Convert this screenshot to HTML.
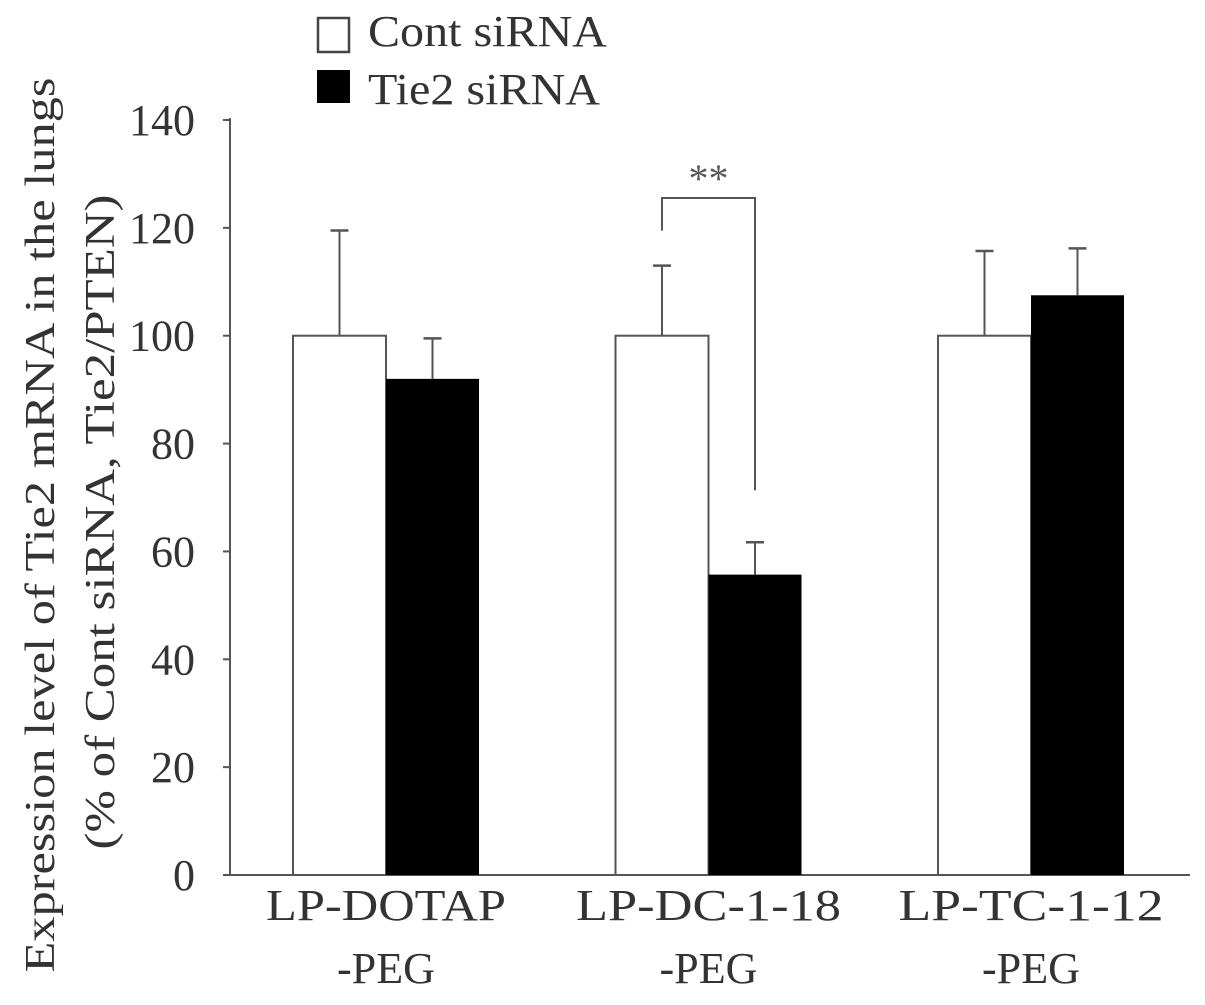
<!DOCTYPE html>
<html><head><meta charset="utf-8"><style>
body{margin:0;background:#fff}
svg{display:block;font-family:"Liberation Serif",serif}
</style></head><body>
<svg id="c" width="1205" height="1005">
<g>
<rect x="318" y="18" width="31" height="34" fill="#fff" stroke="#444" stroke-width="2.5"/>
<text x="368" y="46" font-size="44" fill="#333" textLength="239" lengthAdjust="spacingAndGlyphs">Cont siRNA</text>
<rect x="317" y="70" width="33" height="33" fill="#000"/>
<text x="368" y="104" font-size="44" fill="#333" textLength="232" lengthAdjust="spacingAndGlyphs">Tie2 siRNA</text>
</g>
<text transform="translate(54,525) rotate(-90)" text-anchor="middle" font-size="42" fill="#333" textLength="895" lengthAdjust="spacingAndGlyphs">Expression  level of Tie2 mRNA in the lungs</text>
<text transform="translate(114,522) rotate(-90)" text-anchor="middle" font-size="42" fill="#333" textLength="655" lengthAdjust="spacingAndGlyphs">(% of Cont siRNA, Tie2/PTEN)</text>
</svg>
<script>
const categories=[["LP-DOTAP","-PEG"],["LP-DC-1-18","-PEG"],["LP-TC-1-12","-PEG"]];
const contValues=[100,100,100];
const contErrors=[19.5,13,15.7];
const tie2Values=[92,55.7,107.5];
const tie2Errors=[7.5,6,8.7];
const yTicks=[0,20,40,60,80,100,120,140];
const svg=document.getElementById('c');
const NS='http://www.w3.org/2000/svg';
const y0=875,y1=120,vmax=140;
const y=v=>y0-(v/vmax)*(y0-y1);
const x=i=>386+i*322.5;
const bw=93;
function mk(t,a){const e=document.createElementNS(NS,t);for(const k in a)e.setAttribute(k,a[k]);svg.appendChild(e);return e;}
let e;
e=mk('line',{x1:230,y1:y1-2,x2:230,y2:y0,stroke:'#555','stroke-width':2});


e=mk('line',{x1:229,y1:y0,x2:1190,y2:y0,stroke:'#555','stroke-width':2});


yTicks.forEach(t=>{
 e=mk('line',{x1:223,y1:y(t),x2:230,y2:y(t),stroke:'#555','stroke-width':2});
 
 
 e=mk('text',{x:195,y:y(t)+15,'text-anchor':'end','font-size':44,fill:'#333'});e.textContent=t;
 
 
});
function err(cx,v,er){
 e=mk('line',{x1:cx,y1:y(v),x2:cx,y2:y(v+er),stroke:'#555','stroke-width':2});
 
 
 e=mk('line',{x1:cx-9,y1:y(v+er),x2:cx+9,y2:y(v+er),stroke:'#555','stroke-width':2.5});
 
 
}
const labelLens=[[240,98],[265,98],[265,98]];
categories.forEach((c,i)=>{
 const cx=x(i);
 e=mk('rect',{x:cx-bw,y:y(contValues[i]),width:bw,height:y0-y(contValues[i]),fill:'#fff',stroke:'#555','stroke-width':2});
 
 
 e=mk('rect',{x:cx,y:y(tie2Values[i]),width:bw,height:y0-y(tie2Values[i]),fill:'#000'});
 
 
 err(cx-bw/2,contValues[i],contErrors[i]);
 err(cx+bw/2,tie2Values[i],tie2Errors[i]);
 c.forEach((l,j)=>{
  e=mk('text',{x:cx,y:920+j*63,'text-anchor':'middle','font-size':44,fill:'#333',textLength:labelLens[i][j],lengthAdjust:'spacingAndGlyphs'});e.textContent=l;
  
  
 });
});
const bx1=x(1)-bw/2,bx2=x(1)+bw/2;
e=mk('polyline',{points:`${bx1},${y(contValues[1]+contErrors[1])-35} ${bx1},${y(140)+78} ${bx2},${y(140)+78} ${bx2},${y(tie2Values[1]+tie2Errors[1])-52}`,fill:'none',stroke:'#555','stroke-width':2});


e=mk('text',{x:(bx1+bx2)/2,y:y(140)+72,'text-anchor':'middle','font-size':40,fill:'#555'});e.textContent='**';


</script>
</body></html>
